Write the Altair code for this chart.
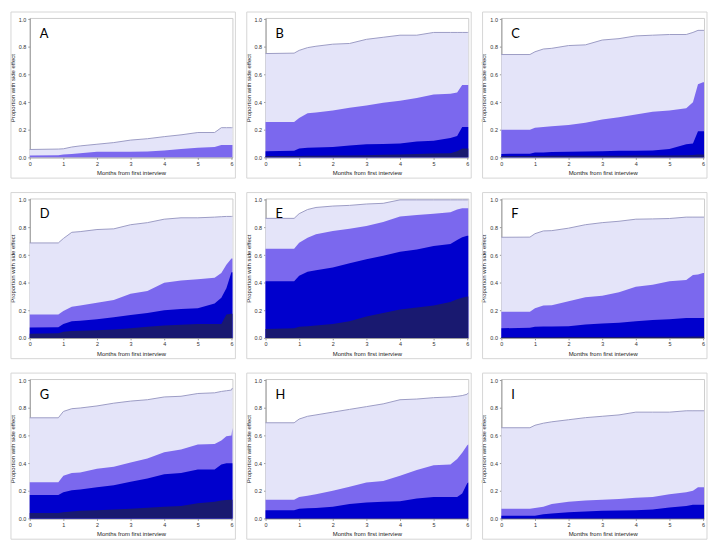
import altair as alt
import pandas as pd

# Common time grid (months from first interview)
X = [0, 0.85, 1.0, 1.25, 1.5, 2.0, 2.5, 3.0, 3.5, 4.0, 4.5, 5.0, 5.5, 5.7, 5.85, 6.0, 6.03]

# Cumulative boundaries per panel: lav (any), sla, blu, nav (most severe)
A_lav = [0.057, 0.06, 0.062, 0.075, 0.083, 0.095, 0.107, 0.125, 0.135, 0.15, 0.163, 0.18, 0.18, 0.215, 0.215, 0.215, 0.215]
A_sla = [0.014, 0.015, 0.02, 0.025, 0.03, 0.04, 0.04, 0.04, 0.042, 0.05, 0.06, 0.07, 0.075, 0.09, 0.09, 0.09, 0.09]
A_blu = [0.0] * 17
A_nav = [0.0] * 17

B_lav = [0.752, 0.755, 0.775, 0.795, 0.805, 0.82, 0.825, 0.855, 0.87, 0.885, 0.885, 0.905, 0.905, 0.905, 0.905, 0.905, 0.905]
B_sla = [0.257, 0.257, 0.285, 0.32, 0.325, 0.34, 0.36, 0.375, 0.395, 0.41, 0.43, 0.455, 0.46, 0.47, 0.525, 0.525, 0.525]
B_blu = [0.045, 0.048, 0.065, 0.07, 0.072, 0.075, 0.085, 0.095, 0.097, 0.10, 0.115, 0.12, 0.14, 0.155, 0.22, 0.22, 0.22]
B_nav = [0.01, 0.01, 0.01, 0.012, 0.012, 0.013, 0.014, 0.015, 0.018, 0.02, 0.025, 0.028, 0.03, 0.045, 0.065, 0.065, 0.065]

C_lav = [0.745, 0.745, 0.765, 0.785, 0.79, 0.81, 0.815, 0.85, 0.86, 0.88, 0.885, 0.89, 0.89, 0.905, 0.92, 0.92, 0.92]
C_sla = [0.2, 0.2, 0.215, 0.22, 0.225, 0.235, 0.25, 0.275, 0.29, 0.31, 0.33, 0.34, 0.355, 0.4, 0.53, 0.545, 0.545]
C_blu = [0.025, 0.027, 0.035, 0.036, 0.038, 0.04, 0.042, 0.045, 0.047, 0.048, 0.05, 0.06, 0.095, 0.1, 0.19, 0.19, 0.19]
C_nav = [0.01, 0.01, 0.01, 0.01, 0.011, 0.011, 0.012, 0.012, 0.012, 0.013, 0.013, 0.014, 0.015, 0.017, 0.02, 0.02, 0.02]

D_lav = [0.688, 0.688, 0.72, 0.765, 0.77, 0.785, 0.79, 0.82, 0.835, 0.86, 0.87, 0.87, 0.875, 0.878, 0.88, 0.88, 0.88]
D_sla = [0.17, 0.17, 0.195, 0.225, 0.235, 0.255, 0.275, 0.32, 0.34, 0.40, 0.415, 0.425, 0.435, 0.47, 0.53, 0.575, 0.575]
D_blu = [0.075, 0.078, 0.10, 0.12, 0.125, 0.135, 0.15, 0.165, 0.18, 0.20, 0.21, 0.215, 0.25, 0.29, 0.36, 0.475, 0.475]
D_nav = [0.03, 0.033, 0.045, 0.05, 0.052, 0.055, 0.06, 0.07, 0.08, 0.09, 0.095, 0.10, 0.10, 0.10, 0.17, 0.175, 0.175]

E_lav = [0.866, 0.866, 0.9, 0.93, 0.945, 0.955, 0.96, 0.97, 0.975, 1.0, 1.0, 1.0, 1.0, 1.0, 1.0, 1.0, 1.0]
E_sla = [0.645, 0.645, 0.69, 0.725, 0.75, 0.775, 0.79, 0.81, 0.84, 0.88, 0.89, 0.9, 0.91, 0.93, 0.94, 0.94, 0.94]
E_blu = [0.41, 0.41, 0.45, 0.48, 0.49, 0.51, 0.54, 0.57, 0.595, 0.625, 0.64, 0.665, 0.68, 0.71, 0.73, 0.74, 0.74]
E_nav = [0.065, 0.07, 0.08, 0.085, 0.09, 0.10, 0.12, 0.155, 0.18, 0.205, 0.22, 0.235, 0.26, 0.28, 0.29, 0.3, 0.3]

F_lav = [0.729, 0.73, 0.755, 0.775, 0.777, 0.795, 0.82, 0.835, 0.845, 0.86, 0.862, 0.865, 0.875, 0.875, 0.875, 0.875, 0.875]
F_sla = [0.19, 0.19, 0.215, 0.235, 0.237, 0.265, 0.295, 0.305, 0.33, 0.37, 0.385, 0.41, 0.42, 0.455, 0.46, 0.47, 0.47]
F_blu = [0.07, 0.073, 0.08, 0.082, 0.083, 0.085, 0.097, 0.105, 0.11, 0.12, 0.13, 0.135, 0.145, 0.145, 0.145, 0.145, 0.145]
F_nav = [0.005, 0.005, 0.005, 0.005, 0.005, 0.006, 0.006, 0.007, 0.007, 0.008, 0.008, 0.009, 0.009, 0.01, 0.01, 0.01, 0.01]

G_lav = [0.729, 0.729, 0.775, 0.795, 0.8, 0.815, 0.835, 0.85, 0.86, 0.88, 0.885, 0.905, 0.91, 0.92, 0.925, 0.93, 0.945]
G_sla = [0.262, 0.262, 0.31, 0.33, 0.333, 0.36, 0.375, 0.405, 0.435, 0.48, 0.5, 0.535, 0.54, 0.565, 0.595, 0.6, 0.655]
G_blu = [0.17, 0.17, 0.19, 0.205, 0.21, 0.225, 0.24, 0.265, 0.29, 0.32, 0.33, 0.355, 0.355, 0.39, 0.40, 0.40, 0.40]
G_nav = [0.04, 0.04, 0.045, 0.05, 0.055, 0.06, 0.065, 0.07, 0.078, 0.085, 0.09, 0.11, 0.12, 0.13, 0.133, 0.135, 0.135]

H_lav = [0.693, 0.693, 0.72, 0.74, 0.75, 0.77, 0.79, 0.81, 0.83, 0.86, 0.865, 0.875, 0.88, 0.885, 0.89, 0.9, 0.91]
H_sla = [0.135, 0.135, 0.155, 0.165, 0.175, 0.20, 0.23, 0.26, 0.272, 0.31, 0.35, 0.385, 0.39, 0.43, 0.475, 0.53, 0.535]
H_blu = [0.06, 0.06, 0.07, 0.073, 0.075, 0.085, 0.105, 0.115, 0.12, 0.125, 0.145, 0.155, 0.155, 0.155, 0.18, 0.255, 0.26]
H_nav = [0.004] * 17

I_lav = [0.657, 0.657, 0.675, 0.69, 0.7, 0.715, 0.73, 0.74, 0.75, 0.77, 0.77, 0.77, 0.78, 0.78, 0.78, 0.78, 0.78]
I_sla = [0.07, 0.07, 0.075, 0.085, 0.105, 0.12, 0.13, 0.135, 0.14, 0.15, 0.155, 0.175, 0.19, 0.2, 0.225, 0.225, 0.225]
I_blu = [0.02, 0.02, 0.02, 0.03, 0.035, 0.045, 0.05, 0.055, 0.058, 0.06, 0.065, 0.08, 0.09, 0.1, 0.1, 0.1, 0.1]
I_nav = [0.004] * 17

PANELS = [
    ("A", A_lav, A_sla, A_blu, A_nav),
    ("B", B_lav, B_sla, B_blu, B_nav),
    ("C", C_lav, C_sla, C_blu, C_nav),
    ("D", D_lav, D_sla, D_blu, D_nav),
    ("E", E_lav, E_sla, E_blu, E_nav),
    ("F", F_lav, F_sla, F_blu, F_nav),
    ("G", G_lav, G_sla, G_blu, G_nav),
    ("H", H_lav, H_sla, H_blu, H_nav),
    ("I", I_lav, I_sla, I_blu, I_nav),
]

COLORS = {"lav": "#E4E4F9", "sla": "#7B68EE", "blu": "#0000CD", "nav": "#191970"}
W, H = 205, 141
Y_TICKS = [0, 0.2, 0.4, 0.6, 0.8, 1.0]
X_TICKS = [0, 1, 2, 3, 4, 5, 6]


def panel(letter, lav, sla, blu, nav):
    df = pd.DataFrame({"x": X, "lav": lav, "sla": sla, "blu": blu, "nav": nav})
    base = alt.Chart(df)
    xenc = alt.X(
        "x:Q",
        scale=alt.Scale(domain=[0, 6.03], nice=False, zero=False),
        axis=alt.Axis(values=X_TICKS, format="d",
                      title="Months from first interview", labelFlush=False),
    )
    yscale = alt.Scale(domain=[0, 1.01], nice=False)
    yaxis = alt.Axis(values=Y_TICKS, format=".1f", title="Proportion with side effect",
                     labelFlush=False)
    layers = []
    lab = pd.DataFrame({"t": [letter]})
    for key in ["lav", "sla", "blu", "nav"]:
        layers.append(base.mark_area(color=COLORS[key], opacity=1, interpolate="linear")
                      .encode(x=xenc, y=alt.Y(f"{key}:Q", scale=yscale, axis=yaxis)))
    layers.append(base.mark_line(color="#9c9cc4", strokeWidth=1)
                  .encode(x=xenc, y=alt.Y("lav:Q", scale=yscale, axis=yaxis)))
    layers.append(alt.Chart(lab).mark_text(
        font="Lato", fontSize=13, align="left", baseline="alphabetic", color="#000"
    ).encode(text="t:N", x=alt.value(10), y=alt.value(20)))
    border = alt.Chart(lab).mark_rect(
        fillOpacity=0, stroke="#d6d6d6", strokeWidth=1, clip=False
    ).encode(x=alt.value(-19), x2=alt.value(W + 3), y=alt.value(-6), y2=alt.value(H + 21))
    layers.append(border)
    return alt.layer(*layers).properties(width=W, height=H)


charts = [panel(*p) for p in PANELS]
chart = alt.concat(
    *charts, columns=3, bounds="flush",
    spacing=alt.RowColnumber(row=41.6, column=33.5),
).properties(padding=0).configure_view(stroke="#cccccc").configure_axis(
    labelFont="Liberation Sans", titleFont="Liberation Sans",
    labelFontSize=5.5, titleFontSize=6, titleFontWeight="normal",
    tickSize=2, labelPadding=2, titlePadding=3,
    domainColor="#999999", tickColor="#999999",
    labelColor="#333333", titleColor="#222222", grid=False,
)

chart.save("out.html", embed_options={"renderer": "svg", "actions": False})
